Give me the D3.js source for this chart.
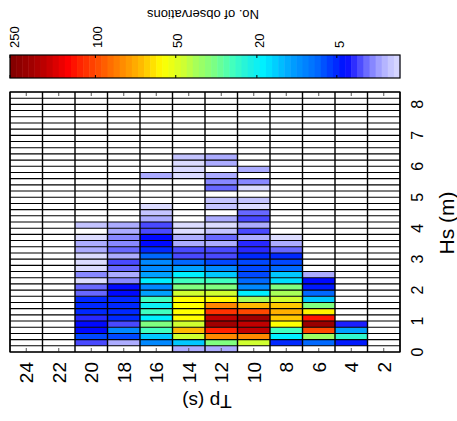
<!DOCTYPE html>
<html><head><meta charset="utf-8">
<script src="https://cdn.jsdelivr.net/npm/d3@7"></script>
<style>body{margin:0;background:#fff}svg{display:block}text{font-family:"Liberation Sans",Arial,sans-serif;fill:#000}</style>
</head><body>
<div id="chart"></div>
<script>
// Tp column centres (s), left to right
const tpValues = [24, 22, 20, 18, 16, 14, 12, 10, 8, 6, 4, 2];
// Hs bin width (m) and number of bins
const hsBinWidth = 0.2;
const hsBinCount = 42;
const hsTicks = [0, 1, 2, 3, 4, 5, 6, 7, 8];
// counts per Tp column, Hs bins from 0 m upward (missing = no observations)
const counts24 = [];
const counts22 = [];
const counts20 = [0, 2.8, 6, 4, 4, 3.3, 5, 5, 5, 2.4, 2.4, 1, 2, 1, 1, 1, 1.6, 1.6, 1, 0, 1.3];
const counts18 = [0, 1.6, 6, 9, 2.8, 5, 5, 5, 5, 4, 4, 2, 1.6, 2.4, 2.8, 1.6, 2.4, 2, 2, 1.6, 1.6];
const counts16 = [0, 9, 14, 26, 33, 18, 26, 20, 26, 11, 9, 18, 11, 9, 9, 7, 5, 4, 4, 2.8, 2.8, 1.6, 1.3, 1, 0, 0, 0, 0, 1.6];
const counts14 = [1.6, 14, 46, 68, 46, 56, 56, 56, 56, 46, 33, 26, 18, 11, 7, 2.8, 2.8, 1.6, 1.6, 1, 1, 0, 0, 0, 0, 0, 0, 0, 1, 1, 1, 1.3];
const counts12 = [1.6, 33, 80, 120, 200, 170, 110, 80, 56, 46, 33, 26, 14, 9, 6, 2.8, 2.8, 1.6, 2.4, 1.3, 1, 1.6, 0, 1.3, 1.3, 0, 2.4, 2, 1.6, 0, 1.6, 1.6];
const counts10 = [0, 46, 80, 170, 170, 200, 100, 68, 40, 18, 9, 7, 6, 6, 6, 5, 3.3, 3.3, 1.6, 2.8, 1.6, 2.8, 2.4, 1, 1.3, 0, 1, 2, 0, 1.6];
const counts8 = [0, 5, 18, 26, 56, 65, 70, 65, 46, 40, 33, 16, 14, 7, 6, 5, 2.4, 1.6, 1];
const counts6 = [0, 7, 38, 100, 210, 125, 58, 33, 14, 7, 4.5, 4, 1.6];
const counts4 = [0, 4.5, 24, 11, 3.5];
const counts2 = [];
const columns = [counts24, counts22, counts20, counts18, counts16, counts14, counts12, counts10, counts8, counts6, counts4, counts2];
// colour bar
const cbarTicks = [250, 100, 50, 20, 5];
const cbarTickPos = [0, 0.219, 0.425, 0.633, 0.838];
const cbarStops = [0, 0.053, 0.092, 0.15, 0.175, 0.219, 0.285, 0.334, 0.391, 0.444, 0.476, 0.519, 0.573, 0.611, 0.649, 0.686, 0.721, 0.751, 0.788, 0.811, 0.838, 0.8605, 0.88, 0.896, 0.912, 0.93, 0.9527, 0.9736, 1];
const cbarColors = ["#800000", "#a00000", "#c00000", "#ff0000", "#ff2000", "#ff4800", "#ff8800", "#ffb800", "#ffff00", "#d0ff30", "#a8ff58", "#80ff80", "#40ffc0", "#20f0e0", "#00f0ff", "#00c8ff", "#00a0ff", "#0088ff", "#0068ff", "#0048ff", "#0028ff", "#0008ff", "#2828ff", "#4848ff", "#6868ff", "#8888ff", "#acacff", "#c4c4ff", "#dcdcff"];

const W = 457, H = 421;
const svg = d3.select("#chart").append("svg").attr("width", W).attr("height", H);

const x = d3.scaleLinear().domain([25, 1]).range([10, 400]);
const y = d3.scaleLinear().domain([0, hsBinWidth * hsBinCount]).range([352, 92]);
const tOf = d3.scaleLog().domain([1, 5, 20, 50, 100, 250]).range([1, 0.838, 0.633, 0.425, 0.219, 0]).clamp(true);
const cmap = d3.scaleLinear().domain(cbarStops).range(cbarColors).interpolate(d3.interpolateRgb);
const color = v => cmap(tOf(v));

// cells
const cells = [];
columns.forEach((col, i) => {
  for (let k = 0; k < hsBinCount; k++) {
    const v = col[k] || 0;
    cells.push({tp: tpValues[i], k, v});
  }
});
svg.append("g").selectAll("rect").data(cells).join("rect")
  .attr("x", d => x(d.tp + 1)).attr("width", d => x(d.tp - 1) - x(d.tp + 1))
  .attr("y", d => y((d.k + 1) * hsBinWidth)).attr("height", d => y(d.k * hsBinWidth) - y((d.k + 1) * hsBinWidth))
  .attr("fill", d => d.v > 0 ? color(d.v) : "#fff");

// grid lines
const gl = svg.append("g");
const rowEdges = d3.range(hsBinCount + 1).map(k => k * hsBinWidth);
gl.selectAll("line.h").data(rowEdges).join("line").attr("class", "h")
  .attr("x1", 10).attr("x2", 400).attr("y1", d => y(d)).attr("y2", d => y(d))
  .attr("stroke", "#000").attr("stroke-width", 1.1);
const colEdges = tpValues.map(t => t + 1).concat([1]);
gl.selectAll("line.v").data(colEdges).join("line").attr("class", "v")
  .attr("y1", 92).attr("y2", 352).attr("x1", d => x(d)).attr("x2", d => x(d))
  .attr("stroke", "#000").attr("stroke-width", 1.4);
svg.append("rect").attr("x", 10).attr("y", 92).attr("width", 390).attr("height", 260)
  .attr("fill", "none").attr("stroke", "#000").attr("stroke-width", 1.2);

// Tp ticks
gl.selectAll("line.tb").data(tpValues).join("line").attr("class", "tb")
  .attr("x1", d => x(d)).attr("x2", d => x(d)).attr("y1", 352).attr("y2", 348).attr("stroke", "#555");
gl.selectAll("line.tt").data(tpValues).join("line").attr("class", "tt")
  .attr("x1", d => x(d)).attr("x2", d => x(d)).attr("y1", 92).attr("y2", 96).attr("stroke", "#555");

// Tp tick labels (rotated)
svg.append("g").selectAll("text").data(tpValues).join("text")
  .attr("transform", d => `translate(${x(d)},362) rotate(-90)`)
  .attr("text-anchor", "end").attr("dy", "0.36em")
  .style("font-size", "19px").text(d => d);
// Hs tick labels
svg.append("g").selectAll("text").data(hsTicks).join("text")
  .attr("transform", d => `translate(417,${y(d)}) rotate(-90)`)
  .attr("text-anchor", "middle").attr("dy", "0.36em")
  .style("font-size", "16px").text(d => d);
// axis titles
svg.append("text").attr("transform", "translate(446,223) rotate(-90)")
  .attr("text-anchor", "middle").attr("dy", "0.36em").style("font-size", "21px").text("Hs (m)");
svg.append("text").attr("transform", "translate(207,402) rotate(180)")
  .attr("text-anchor", "middle").attr("dy", "0.36em").style("font-size", "19px").text("Tp (s)");

// colour bar
const xb = d3.scaleLinear().domain([0, 1]).range([10, 400]);
const nSteps = 64;
const steps = d3.range(nSteps);
svg.append("g").selectAll("rect").data(steps).join("rect")
  .attr("x", i => xb(i / nSteps)).attr("width", i => xb((i + 1) / nSteps) - xb(i / nSteps) + 0.5)
  .attr("y", 55).attr("height", 23)
  .attr("fill", i => cmap((i + 0.5) / nSteps));
svg.append("rect").attr("x", 10).attr("y", 55).attr("width", 390).attr("height", 23)
  .attr("fill", "none").attr("stroke", "#000").attr("stroke-width", 1.2);
const cb = svg.append("g");
cb.selectAll("line.a").data(cbarTickPos).join("line").attr("class", "a")
  .attr("x1", d => xb(d)).attr("x2", d => xb(d)).attr("y1", 55).attr("y2", 58).attr("stroke", "#000");
cb.selectAll("line.b").data(cbarTickPos).join("line").attr("class", "b")
  .attr("x1", d => xb(d)).attr("x2", d => xb(d)).attr("y1", 78).attr("y2", 75).attr("stroke", "#000");
cb.selectAll("text").data(cbarTicks).join("text")
  .attr("transform", (d, i) => `translate(${Math.max(xb(cbarTickPos[i]) + 2, 14.5)},48) rotate(-90)`)
  .attr("text-anchor", "start").attr("dy", "0.36em")
  .style("font-size", "13px").text(d => d);
svg.append("text").attr("transform", "translate(203,15) rotate(180)")
  .attr("text-anchor", "middle").attr("dy", "0.36em").style("font-size", "13px").text("No. of observations");
</script>
</body></html>
